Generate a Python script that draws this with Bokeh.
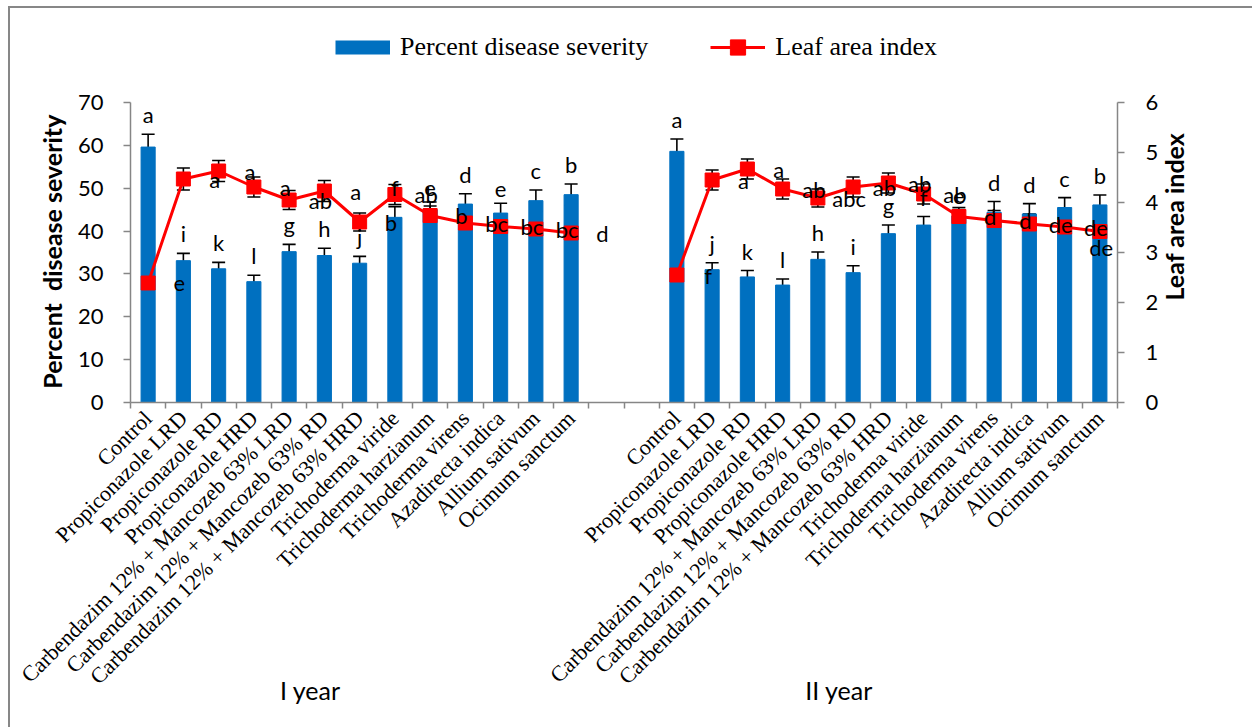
import math
from bokeh.plotting import figure
from bokeh.models import (ColumnDataSource, Range1d, LinearAxis, FixedTicker, Whisker,
                          TeeHead, Legend, LegendItem, LabelSet)
from bokeh.embed import file_html
from bokeh.resources import INLINE
from bokeh.core.properties import value

# ---------------- data ----------------
treatments = ["Control", "Propiconazole LRD", "Propiconazole RD", "Propiconazole HRD",
              "Carbendazim 12% + Mancozeb 63% LRD", "Carbendazim 12% + Mancozeb 63% RD",
              "Carbendazim 12% + Mancozeb 63% HRD", "Trichoderma viride",
              "Trichoderma harzianum", "Trichoderma virens", "Azadirecta indica",
              "Allium sativum", "Ocimum sanctum"]
years = ["I year", "II year"]

pds_y1 = [59.6, 33.1, 31.2, 28.2, 35.2, 34.3, 32.5, 43.2, 45.0, 46.3, 44.2, 47.1, 48.5]
pds_err_y1 = [3.0, 1.7, 1.5, 1.5, 1.7, 1.7, 1.6, 2.5, 1.8, 2.4, 2.3, 2.5, 2.5]
pds_y2 = [58.6, 31.0, 29.3, 27.4, 33.4, 30.3, 39.4, 41.4, 43.5, 44.4, 44.0, 45.5, 46.1]
pds_err_y2 = [2.9, 1.6, 1.5, 1.4, 1.7, 1.6, 2.0, 2.0, 1.5, 2.5, 2.4, 2.3, 2.3]

lai_y1 = [2.39, 4.47, 4.63, 4.31, 4.05, 4.23, 3.61, 4.16, 3.74, 3.59, 3.52, 3.47, 3.39]
lai_err_y1 = [0.10, 0.22, 0.21, 0.20, 0.19, 0.21, 0.18, 0.20, 0.19, 0.19, 0.18, 0.18, 0.18]
lai_y2 = [2.55, 4.45, 4.67, 4.27, 4.09, 4.31, 4.39, 4.17, 3.72, 3.64, 3.57, 3.51, 3.42]
lai_err_y2 = [0.10, 0.20, 0.20, 0.20, 0.18, 0.20, 0.20, 0.20, 0.18, 0.20, 0.20, 0.20, 0.18]

pds_letters_y1 = ["a", "i", "k", "l", "g", "h", "j", "f", "e", "d", "e", "c", "b"]
pds_letters_y2 = ["a", "j", "k", "l", "h", "i", "g", "f", "e", "d", "d", "c", "b"]
lai_letters_y1 = ["e", "a", "a", "a", "ab", "a", "b", "ab", "b", "bc", "bc", "bc", "d"]
lai_letters_y2 = ["f", "a", "a", "ab", "abc", "ab", "ab", "ab", "d", "d", "de", "de", "de"]

pds_ticks = [0, 10, 20, 30, 40, 50, 60, 70]
lai_ticks = [0, 1, 2, 3, 4, 5, 6]

# ---------------- geometry ----------------
PLOT_H = 300          # pixel height of the 0..70 axis
TOP_EXTRA = 80        # room above the axes (inside the frame) for the legend
RIGHT_TITLE_START = 102   # px above the axis bottom where the right-hand title begins
n = len(treatments)
gap = 2
x1 = list(range(n))
x2 = [i + n + gap for i in range(n)]
n_slots = 2 * n + gap
xs = x1 + x2
x_max = n_slots - 0.5
# year captions sit a little left of each group's middle (as in the original)
year_label_x = [(x1[0] + x1[-1]) / 2 - 1.4, (x2[0] + x2[-1]) / 2 - 1.4]

pds_top = pds_ticks[-1] * (PLOT_H + TOP_EXTRA) / PLOT_H
lai_top = lai_ticks[-1] * (PLOT_H + TOP_EXTRA) / PLOT_H
right_title_y = lai_ticks[-1] * RIGHT_TITLE_START / PLOT_H

pds = pds_y1 + pds_y2
pds_err = pds_err_y1 + pds_err_y2
lai = lai_y1 + lai_y2
lai_err = lai_err_y1 + lai_err_y2

# letters of the leaf-area-index series sit one slot to the right (as in the original);
# the one that would fall outside the plot area is kept just inside it, a little lower
lai_lx = [min(x + 1, x_max - 0.35) for x in xs]
lai_ly_off = [-16 if x + 1 > x_max - 0.35 else 0 for x in xs]

src = ColumnDataSource(dict(
    x=xs, pds=pds,
    pds_up=[v + e for v, e in zip(pds, pds_err)],
    pds_lo=[v - e for v, e in zip(pds, pds_err)],
    lai=lai,
    lai_up=[v + e for v, e in zip(lai, lai_err)],
    lai_lo=[v - e for v, e in zip(lai, lai_err)],
    pds_letter=pds_letters_y1 + pds_letters_y2,
    lai_letter=lai_letters_y1 + lai_letters_y2,
    lai_lx=lai_lx, lai_ly_off=lai_ly_off,
))
src_l1 = ColumnDataSource(dict(x=x1, lai=lai_y1))
src_l2 = ColumnDataSource(dict(x=x2, lai=lai_y2))
# off-screen source used only to give the legend a blue swatch
src_swatch = ColumnDataSource(dict(x=[-5, -4], y=[-10, -10]))

AX = "#868686"
SANS = "Lato"
SERIF = "Liberation Serif"
NB = "\u00a0"

p = figure(width=1252, height=727, x_range=Range1d(-0.5, x_max),
           y_range=Range1d(0, pds_top), output_backend="svg", toolbar_location=None,
           min_border_left=130, min_border_right=135, min_border_top=102 - TOP_EXTRA,
           min_border_bottom=325)
p.extra_y_ranges = {"lai": Range1d(0, lai_top)}
p.outline_line_color = None
p.grid.visible = False
p.background_fill_color = None
p.border_fill_color = None
p.styles = {"background": "linear-gradient(#878787,#878787) 8px 6px / 2px 100% no-repeat, "
                          "linear-gradient(#878787,#878787) 8px 6px / 100% 2px no-repeat, #ffffff"}

# x axis
xa = p.xaxis[0]
xa.bounds = (-0.5, x_max)
xa.ticker = FixedTicker(ticks=xs, minor_ticks=[k - 0.5 for k in range(n_slots + 1)])
xa.major_label_overrides = {x: t for x, t in zip(xs, treatments + treatments)}
xa.major_label_orientation = math.pi / 4
xa.major_tick_out = 0
xa.major_tick_in = 0
xa.minor_tick_out = 6
xa.minor_tick_in = 0
xa.minor_tick_line_color = AX
xa.minor_tick_line_width = 1.5
xa.axis_line_color = AX
xa.axis_line_width = 1.5
xa.major_label_text_font = SERIF
xa.major_label_text_font_size = "22px"
xa.major_label_text_color = "black"
xa.major_label_standoff = 6

# year captions below the treatment names
ya_years = LinearAxis(ticker=FixedTicker(ticks=year_label_x, minor_ticks=[]))
ya_years.major_label_overrides = {x: t for x, t in zip(year_label_x, years)}
ya_years.axis_line_color = None
ya_years.major_tick_line_color = None
ya_years.minor_tick_line_color = None
ya_years.major_tick_out = 0
ya_years.major_tick_in = 0
ya_years.major_label_text_font = SANS
ya_years.major_label_text_font_size = "25px"
ya_years.major_label_text_color = "black"
ya_years.major_label_standoff = -26
p.add_layout(ya_years, "below")

# left y axis
ya = p.yaxis[0]
ya.bounds = (pds_ticks[0], pds_ticks[-1])
ya.ticker = FixedTicker(ticks=pds_ticks)
ya.axis_line_color = AX
ya.axis_line_width = 1.5
ya.major_tick_line_color = AX
ya.major_tick_line_width = 1.5
ya.major_tick_out = 7
ya.major_tick_in = 0
ya.minor_tick_out = 0
ya.minor_tick_in = 0
ya.major_label_text_font = SANS
ya.major_label_text_font_size = "22px"
ya.major_label_text_color = "black"
ya.major_label_standoff = 20
# trailing no-break spaces keep the title centred on the 0..70 axis, not the whole frame
ya.axis_label = "Percent" + NB + " disease severity" + NB * 13
ya.axis_label_text_font = SANS
ya.axis_label_text_font_size = "25px"
ya.axis_label_text_font_style = "bold"
ya.axis_label_text_color = "black"
ya.axis_label_standoff = 8

# right y axis
ra = LinearAxis(y_range_name="lai", ticker=FixedTicker(ticks=lai_ticks),
                bounds=(lai_ticks[0], lai_ticks[-1]))
ra.axis_line_color = AX
ra.axis_line_width = 1.5
ra.major_tick_line_color = AX
ra.major_tick_line_width = 1.5
ra.major_tick_out = 7
ra.major_tick_in = 0
ra.minor_tick_out = 0
ra.minor_tick_in = 0
ra.major_label_text_font = SANS
ra.major_label_text_font_size = "22px"
ra.major_label_text_color = "black"
ra.major_label_standoff = 21
p.add_layout(ra, "right")

# right-hand title, drawn as the single rotated label of a bare axis (reads bottom to top)
rt = LinearAxis(y_range_name="lai", ticker=FixedTicker(ticks=[right_title_y], minor_ticks=[]))
rt.major_label_overrides = {right_title_y: "Leaf area index"}
rt.major_label_orientation = math.pi / 2
rt.axis_line_color = None
rt.major_tick_line_color = None
rt.minor_tick_line_color = None
rt.major_tick_out = 0
rt.major_tick_in = 0
rt.major_label_text_font = SANS
rt.major_label_text_font_size = "25px"
rt.major_label_text_font_style = "bold"
rt.major_label_text_color = "black"
rt.major_label_standoff = 12
p.add_layout(rt, "right")

# bars
bars = p.vbar(x="x", top="pds", width=0.4, source=src, fill_color="#0070C0",
              line_color="#0070C0")
p.add_layout(Whisker(base="x", upper="pds_up", lower="pds_lo", source=src,
                     line_color="black", line_width=1.6,
                     upper_head=TeeHead(size=13, line_color="black", line_width=1.6),
                     lower_head=TeeHead(size=13, line_color="black", line_width=1.6)))

# leaf area index lines
l1 = p.line(x="x", y="lai", source=src_l1, y_range_name="lai", line_color="#FF0000",
            line_width=3)
p.line(x="x", y="lai", source=src_l2, y_range_name="lai", line_color="#FF0000", line_width=3)
sq = p.scatter(x="x", y="lai", source=src, y_range_name="lai", marker="square", size=14,
               fill_color="#FF0000", line_color="#FF0000")
p.add_layout(Whisker(base="x", upper="lai_up", lower="lai_lo", source=src, y_range_name="lai",
                     line_color="black", line_width=1.6,
                     upper_head=TeeHead(size=13, line_color="black", line_width=1.6),
                     lower_head=TeeHead(size=13, line_color="black", line_width=1.6)))

# legend swatch for the bars (a thick blue stroke drawn off-screen)
swatch = p.line(x="x", y="y", source=src_swatch, line_color="#0070C0", line_width=14,
                line_cap="butt")

# significance letters
p.add_layout(LabelSet(x="x", y="pds_up", text="pds_letter", source=src, y_offset=6,
                      text_align="center", text_baseline="bottom", text_font=value(SANS),
                      text_font_size=value("22px"), text_color="black"))
p.add_layout(LabelSet(x="lai_lx", y="lai", text="lai_letter", source=src, y_range_name="lai",
                      x_offset=-4, y_offset="lai_ly_off", text_align="center",
                      text_baseline="middle", text_font=value(SANS),
                      text_font_size=value("22px"), text_color="black"))

# legend in the space above the axes
leg = Legend(items=[LegendItem(label="Percent disease severity", renderers=[swatch]),
                    LegendItem(label="Leaf area index", renderers=[l1, sq])],
             location=(205, PLOT_H + 36), orientation="horizontal", glyph_width=55,
             glyph_height=38, label_standoff=10, spacing=62, padding=0, margin=0,
             border_line_color=None, background_fill_alpha=0, label_text_font=SERIF,
             label_text_font_size="26px", label_text_color="black")
p.add_layout(leg)

open("out.html", "w").write(file_html(p, INLINE))
